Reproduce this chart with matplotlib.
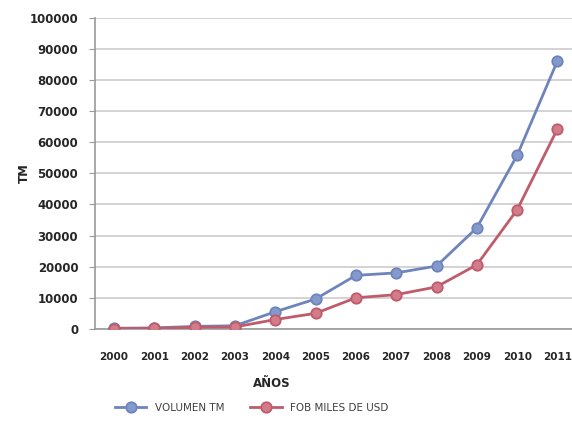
import numpy as np
import matplotlib.pyplot as plt

years = ['2000', '2001', '2002', '2003', '2004', '2005', '2006', '2007', '2008', '2009', '2010', '2011']
volumen_tm = [200, 300, 800, 1000, 5500, 9600, 17200, 18000, 20200, 32500, 55800, 86200]
fob_miles_usd = [100, 200, 500, 600, 3000, 5000, 10000, 11000, 13500, 20600, 38300, 64300]

blue = '#6f84bb'
red = '#bf5b6a'

fig = plt.figure(figsize=(5.72, 4.26), dpi=100)
ax = fig.add_axes([0.166, 0.228, 0.834, 0.73])

x = np.arange(len(years))
ax.plot(x, volumen_tm, color=blue, lw=2.0, marker='o', ms=7.5,
        mfc='#8499cc', mec=blue, mew=1.3, label='VOLUMEN TM', zorder=3)
ax.plot(x, fob_miles_usd, color=red, lw=2.0, marker='o', ms=7.5,
        mfc='#d27b89', mec=red, mew=1.3, label='FOB MILES DE USD', zorder=3)

ax.set_xlim(-0.47, 11.36)
ax.set_ylim(0, 100000)
ax.set_yticks(np.arange(0, 100001, 10000))
ax.set_xticks(x)
ax.set_xticklabels(years)

ax.grid(axis='y', color='#d0d0d0', lw=1.3)
ax.set_axisbelow(True)
for s in ['top', 'right']:
    ax.spines[s].set_visible(False)
for s in ['left', 'bottom']:
    ax.spines[s].set_color('#9a9a9a')
    ax.spines[s].set_linewidth(1.2)

ax.tick_params(axis='y', length=4, color='#9a9a9a', labelsize=8.5, pad=8)
ax.tick_params(axis='x', length=0, labelsize=7.5, pad=17)
for lbl in ax.get_xticklabels() + ax.get_yticklabels():
    lbl.set_fontweight('bold')
    lbl.set_color('#262626')

ax.set_ylabel('TM', fontsize=8.5, fontweight='bold', color='#262626')
ax.yaxis.set_label_coords(-0.135, 0.5)
ax.set_xlabel('AÑOS', fontsize=8.5, fontweight='bold', color='#262626')
ax.xaxis.set_label_coords(0.37, -0.155)

fig.legend(loc='center', bbox_to_anchor=(0.44, 0.042), ncol=2, frameon=False,
           fontsize=7.5, handlelength=3, columnspacing=2.5, labelcolor='#404040')

fig.savefig('out.png', dpi=100)
